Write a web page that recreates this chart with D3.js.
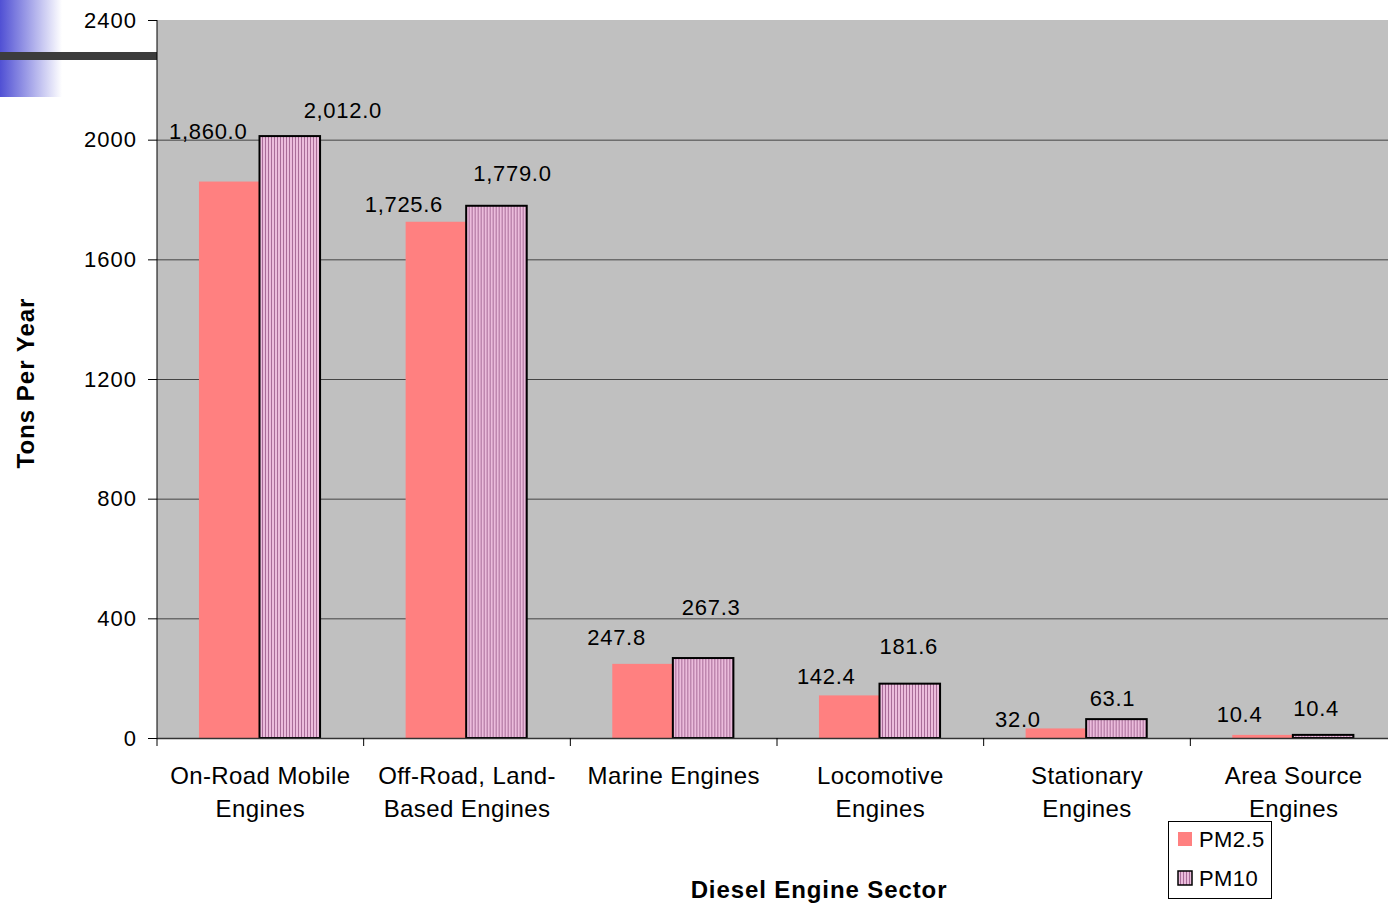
<!DOCTYPE html>
<html>
<head>
<meta charset="utf-8">
<title>Diesel Engine Sector PM</title>
<script src="https://cdn.jsdelivr.net/npm/d3@7"></script>
<style>
  body { margin: 0; background: #fff; }
  text { font-family: "Liberation Sans", Arial, sans-serif; }
</style>
</head>
<body>
<div id="chart"></div>
<script>

// data
var sectors = [
  ["On-Road Mobile", "Engines"],
  ["Off-Road, Land-", "Based Engines"],
  ["Marine Engines"],
  ["Locomotive", "Engines"],
  ["Stationary", "Engines"],
  ["Area Source", "Engines"]
];
var seriesNames = ["PM2.5", "PM10"];
var pm25 = [1860.0, 1725.6, 247.8, 142.4, 32.0, 10.4];
var pm10 = [2012.0, 1779.0, 267.3, 181.6, 63.1, 10.4];
var yTicks = [0, 400, 800, 1200, 1600, 2000, 2400];

// hand-placed label nudges (pixels), as in the original sheet
var labelNudge25 = [[-21, 50], [-32, 17], [-26, 26], [-23, 19], [-38, 9], [-23, 20]];
var labelNudge10 = [[53, 26], [16, 32], [8, 51], [-1, 37], [-4, 21], [-7, 26]];

var W = 1388, H = 903;
var plotL = 157, plotT = 20, plotB = 738, plotR = 1397;

var svg = d3.select("#chart").append("svg")
    .attr("width", W)
    .attr("height", H);

var defs = svg.append("defs");

// slide decoration gradient
var grad = defs.append("linearGradient").attr("id", "fade")
    .attr("x1", 0).attr("x2", 1).attr("y1", 0).attr("y2", 0);
grad.append("stop").attr("offset", 0).attr("stop-color", "#5050d4");
grad.append("stop").attr("offset", 1).attr("stop-color", "#ffffff");

// vertical stripe fill for PM10
var pat = defs.append("pattern").attr("id", "stripes")
    .attr("patternUnits", "userSpaceOnUse")
    .attr("width", 3).attr("height", 10);
pat.append("rect").attr("width", 3).attr("height", 10).attr("fill", "#ebbcdc");
pat.append("rect").attr("width", 1).attr("height", 10).attr("fill", "#a86c98");

svg.append("rect")
    .attr("x", 0).attr("y", 0).attr("width", 62).attr("height", 97)
    .attr("fill", "url(#fade)");
svg.append("rect")
    .attr("x", 0).attr("y", 52).attr("width", plotL).attr("height", 8)
    .attr("fill", "#3c3c3c");

// scales
var x0 = d3.scaleBand()
    .domain(d3.range(sectors.length))
    .range([plotL, plotR])
    .paddingInner(0).paddingOuter(0);

var x1 = d3.scaleBand()
    .domain(seriesNames)
    .range([x0.bandwidth() * 0.203, x0.bandwidth() * 0.789]);

var y = d3.scaleLinear()
    .domain([0, 2400])
    .range([plotB, plotT]);

// plot background
svg.append("rect")
    .attr("x", plotL).attr("y", plotT)
    .attr("width", plotR - plotL).attr("height", plotB - plotT)
    .attr("fill", "#c0c0c0");

// gridlines
svg.append("g")
  .selectAll("line")
  .data(yTicks.filter(function(d) { return d > 0 && d < 2400; }))
  .enter()
  .append("line")
    .attr("x1", plotL).attr("x2", plotR)
    .attr("y1", function(d) { return y(d) + 0.5; })
    .attr("y2", function(d) { return y(d) + 0.5; })
    .attr("stroke", "#444")
    .attr("stroke-width", 1);

// bars
var groups = svg.append("g")
  .selectAll("g")
  .data(sectors.map(function(s, i) { return i; }))
  .enter()
  .append("g")
    .attr("transform", function(i) { return "translate(" + x0(i) + ",0)"; });

groups.append("rect")
    .attr("x", x1("PM2.5"))
    .attr("y", function(i) { return y(pm25[i]); })
    .attr("width", x1.bandwidth())
    .attr("height", function(i) { return y(0) - y(pm25[i]); })
    .attr("fill", "#ff8080");

groups.append("rect")
    .attr("x", x1("PM10"))
    .attr("y", function(i) { return y(pm10[i]); })
    .attr("width", x1.bandwidth())
    .attr("height", function(i) { return y(0) - y(pm10[i]); })
    .attr("fill", "url(#stripes)")
    .attr("stroke", "#000")
    .attr("stroke-width", 2);

// data labels
var fmt = d3.format(",.1f");
groups.append("text")
    .attr("x", function(i) { return x1("PM2.5") + x1.bandwidth() / 2 + labelNudge25[i][0]; })
    .attr("y", function(i) { return y(pm25[i]) - labelNudge25[i][1]; })
    .attr("text-anchor", "middle")
    .attr("dominant-baseline", "central")
    .style("font-size", "22px")
    .style("letter-spacing", "0.7px")
    .text(function(i) { return fmt(pm25[i]); });

groups.append("text")
    .attr("x", function(i) { return x1("PM10") + x1.bandwidth() / 2 + labelNudge10[i][0]; })
    .attr("y", function(i) { return y(pm10[i]) - labelNudge10[i][1]; })
    .attr("text-anchor", "middle")
    .attr("dominant-baseline", "central")
    .style("font-size", "22px")
    .style("letter-spacing", "0.7px")
    .text(function(i) { return fmt(pm10[i]); });

// y axis
var yAxis = svg.append("g")
    .attr("transform", "translate(" + plotL + ",0)")
    .call(d3.axisLeft(y).tickValues(yTicks).tickSize(9).tickPadding(11).tickFormat(d3.format("d")));
yAxis.select(".domain").attr("stroke", "#000").attr("d", "M0," + plotT + "V" + plotB);
yAxis.selectAll(".tick line").attr("stroke", "#000");
yAxis.selectAll(".tick text")
    .attr("fill", "#000")
    .style("font-size", "22px")
    .style("letter-spacing", "1px")
    .style("font-family", "Liberation Sans, Arial, sans-serif");

// x axis
svg.append("line")
    .attr("x1", plotL).attr("x2", plotR)
    .attr("y1", plotB + 0.5).attr("y2", plotB + 0.5)
    .attr("stroke", "#333").attr("stroke-width", 1.5);

svg.append("g")
  .selectAll("line")
  .data(d3.range(sectors.length + 1))
  .enter()
  .append("line")
    .attr("x1", function(i) { return plotL + i * x0.step(); })
    .attr("x2", function(i) { return plotL + i * x0.step(); })
    .attr("y1", plotB).attr("y2", plotB + 8)
    .attr("stroke", "#000");

var catLabels = svg.append("g")
  .selectAll("text")
  .data(sectors)
  .enter()
  .append("text")
    .attr("text-anchor", "middle")
    .style("font-size", "24px")
    .style("letter-spacing", "0.4px")
    .attr("transform", function(d, i) {
      return "translate(" + (x0(i) + x0.bandwidth() / 2) + "," + 784 + ")";
    });
catLabels.selectAll("tspan")
  .data(function(d) { return d; })
  .enter()
  .append("tspan")
    .attr("x", 0)
    .attr("dy", function(d, j) { return j === 0 ? 0 : 33; })
    .text(function(d) { return d; });

// axis titles
svg.append("text")
    .attr("x", 819).attr("y", 898)
    .attr("text-anchor", "middle")
    .style("font-size", "24px")
    .style("font-weight", "bold")
    .style("letter-spacing", "0.9px")
    .text("Diesel Engine Sector");

svg.append("text")
    .attr("transform", "translate(34,383) rotate(-90)")
    .attr("text-anchor", "middle")
    .style("font-size", "24px")
    .style("font-weight", "bold")
    .style("letter-spacing", "1px")
    .text("Tons Per Year");

// legend
var legend = svg.append("g").attr("transform", "translate(1168,821)");
legend.append("rect")
    .attr("x", 0.5).attr("y", 0.5)
    .attr("width", 103).attr("height", 77)
    .attr("fill", "#fff").attr("stroke", "#000");

var items = legend.selectAll("g.item")
  .data(seriesNames)
  .enter()
  .append("g")
    .attr("class", "item")
    .attr("transform", function(d, i) { return "translate(0," + (18 + i * 39) + ")"; });

items.append("rect")
    .attr("x", 10).attr("y", -7)
    .attr("width", 14).attr("height", 14)
    .attr("fill", function(d) { return d === "PM2.5" ? "#ff8080" : "url(#stripes)"; })
    .attr("stroke", function(d) { return d === "PM2.5" ? "none" : "#000"; })
    .attr("stroke-width", 1.5);

items.append("text")
    .attr("x", 31).attr("y", 0)
    .attr("dominant-baseline", "central")
    .style("font-size", "22px")
    .style("letter-spacing", "0.4px")
    .text(function(d) { return d; });

</script>
</body>
</html>
